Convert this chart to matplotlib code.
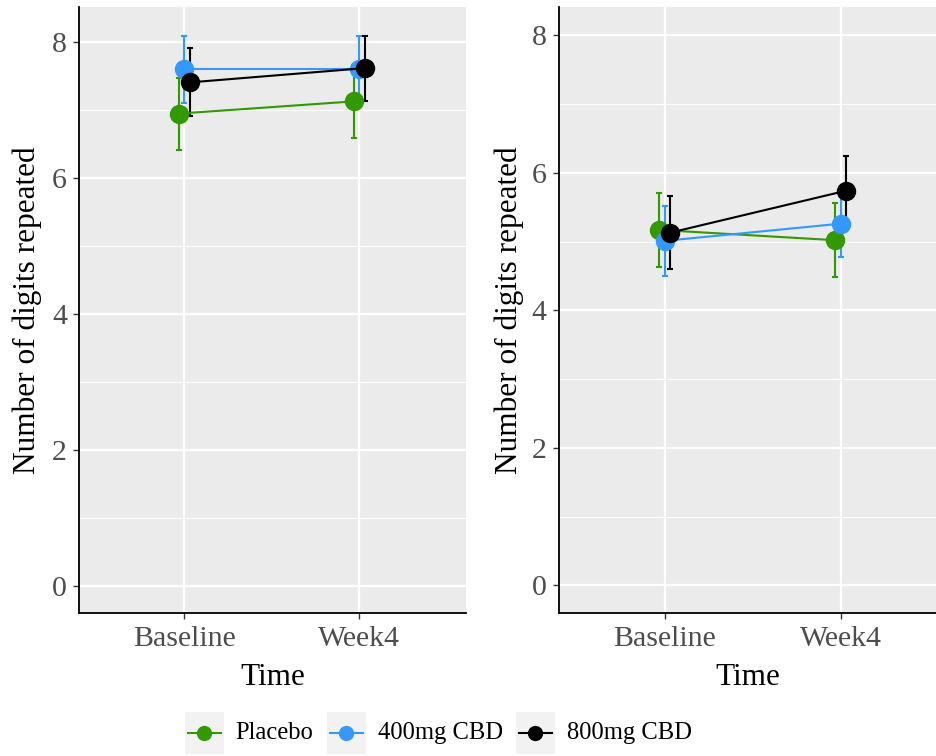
import matplotlib
matplotlib.use("Agg")
import matplotlib.pyplot as plt
from matplotlib.patches import Rectangle
from matplotlib.lines import Line2D
import numpy as np

plt.rcParams['font.family'] = ['Liberation Serif', 'DejaVu Serif']

times = ["Baseline", "Week4"]
groups = ["Placebo", "400mg CBD", "800mg CBD"]
colors = ["#339900", "#3399FF", "#000000"]

# Left panel: means and standard errors
left_mean = {
    "Placebo":   [6.95, 7.13],
    "400mg CBD": [7.60, 7.60],
    "800mg CBD": [7.41, 7.62],
}
left_se = {
    "Placebo":   [0.53, 0.54],
    "400mg CBD": [0.49, 0.49],
    "800mg CBD": [0.50, 0.48],
}
# Right panel
right_mean = {
    "Placebo":   [5.17, 5.02],
    "400mg CBD": [5.01, 5.26],
    "800mg CBD": [5.13, 5.74],
}
right_se = {
    "Placebo":   [0.54, 0.54],
    "400mg CBD": [0.51, 0.48],
    "800mg CBD": [0.53, 0.50],
}
dodge = [-0.033, 0.0, 0.033]

W, H = 937, 756
fig = plt.figure(figsize=(W / 100, H / 100), dpi=100)

def px_axes(x0, x1, ytop, ybot):
    return fig.add_axes([x0 / W, (H - ybot) / H, (x1 - x0) / W, (ybot - ytop) / H])

axL = px_axes(79.5, 466, 7, 613)
axR = px_axes(559, 937, 7, 613)

def draw_panel(ax, means, ses, ylim, xlim):
    ax.set_facecolor("#EBEBEB")
    ax.set_xlim(*xlim)
    ax.set_ylim(*ylim)
    ax.set_yticks([0, 2, 4, 6, 8])
    ax.set_yticks([1, 3, 5, 7], minor=True)
    ax.set_xticks([1, 2])
    ax.set_xticks([], minor=True)
    ax.set_xticklabels(times)
    ax.grid(True, which="major", color="white", linewidth=1.6, zorder=0)
    ax.grid(True, which="minor", axis="y", color="white", linewidth=0.8, zorder=0)
    ax.set_axisbelow(True)
    for s in ["top", "right"]:
        ax.spines[s].set_visible(False)
    for s in ["left", "bottom"]:
        ax.spines[s].set_color("black")
        ax.spines[s].set_linewidth(1.3)
    ax.tick_params(axis="both", which="major", length=4, width=1.0, color="#333333",
                   labelcolor="#4D4D4D", labelsize=21.5, pad=5)
    ax.tick_params(axis="y", which="minor", length=0)
    x = np.array([1, 2])
    for g, c, d in zip(groups, colors, dodge):
        m = np.array(means[g]); e = np.array(ses[g])
        ax.errorbar(x + d, m, yerr=e, fmt="none", ecolor=c, elinewidth=1.5,
                    capsize=2.5, capthick=1.5, zorder=3)
        ax.plot(x + d, m, color=c, linewidth=1.5, marker="o", markersize=14,
                markeredgewidth=0, zorder=4)
    ax.set_xlabel("Time", fontsize=22.5, color="black")
    ax.set_ylabel("Number of digits repeated", fontsize=22.5, color="black")
    ax.xaxis.set_label_coords(0.5, -0.106)
    ax.xaxis.label.set_va("center")

draw_panel(axL, left_mean, left_se, (-0.405, 8.52), (0.4, 2.61))
draw_panel(axR, right_mean, right_se, (-0.40, 8.41), (0.4, 2.548))
axL.yaxis.set_label_coords((27 - 79.5) / 386.5, 0.5)
axL.yaxis.label.set_va("center")
axR.yaxis.set_label_coords((509 - 559) / 378, 0.5)
axR.yaxis.label.set_va("center")

# Legend (manual, ggplot style with grey key backgrounds)
axLeg = fig.add_axes([0, 0, 1, 1], zorder=-1)
axLeg.set_xlim(0, W)
axLeg.set_ylim(H, 0)
axLeg.axis("off")
key_x = [185, 327, 516]
text_x = [235, 378, 567]
ky = 733
for g, c, kx, tx in zip(groups, colors, key_x, text_x):
    axLeg.add_patch(Rectangle((kx, ky - 21), 39, 42, facecolor="#F2F2F2", edgecolor="none"))
    axLeg.add_line(Line2D([kx + 3, kx + 36], [ky, ky], color=c, linewidth=1.5))
    axLeg.plot([kx + 19.5], [ky], marker="o", color=c, markersize=11, markeredgewidth=0)
    axLeg.text(tx, ky, g, fontsize=17.7, va="center", ha="left", color="black")

fig.savefig("out.png", dpi=100)
